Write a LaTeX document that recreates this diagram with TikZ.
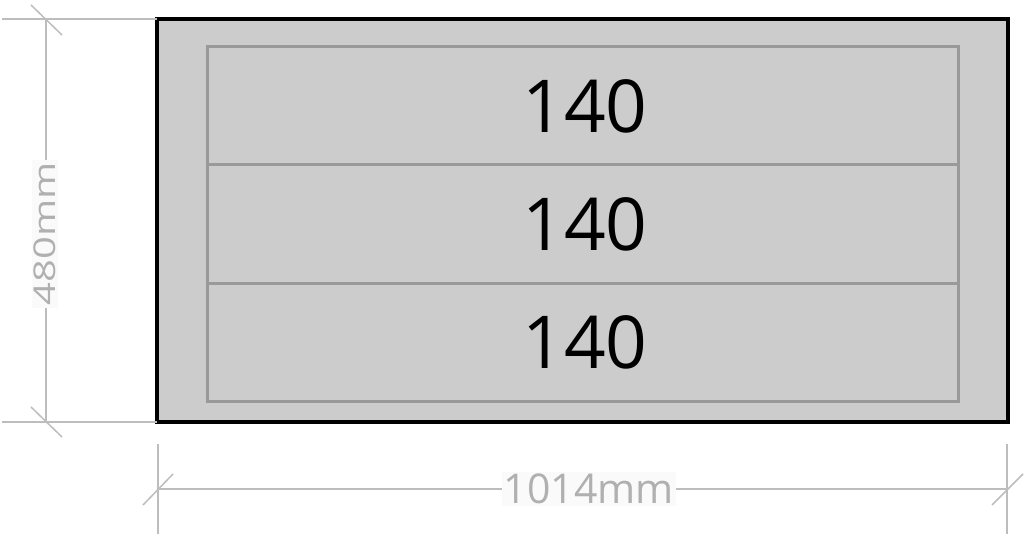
\documentclass[tikz,border=0pt]{standalone}
\usepackage{fontspec}
\setmainfont{Open Sans}
\usetikzlibrary{positioning,calc}
\definecolor{boardgray}{HTML}{CCCCCC}
\definecolor{slotgray}{HTML}{999999}
\definecolor{dimgray}{HTML}{BDBDBD}
\definecolor{dimtext}{HTML}{B0B0B0}
\begin{document}
\begin{tikzpicture}[x=1pt,y=-1pt,
		board/.style={draw=black,line width=4pt,fill=boardgray},
		slot/.style={draw=slotgray,line width=3pt,fill=boardgray,minimum width=751pt,minimum height=118pt,inner sep=0pt,
			outer sep=0pt,font=\fontsize{73}{75}\selectfont},
		dimline/.style={draw=dimgray,line width=1.5pt},
		dimlabel/.style={fill=white!98!black,text=dimtext,inner sep=2pt,font=\fontsize{41}{43}\selectfont},
		]
		\useasboundingbox (0,0) rectangle (1024,537);
		% outer board
		\draw[board] (157,19) rectangle (1008,422);
		\coordinate (tl) at (157,19);
		\coordinate (bl) at (157,422);
		% slots
		\node[slot] (s1) at (582.5,106) {\hspace{5pt}140};
		\node[slot,below=0pt of s1] (s2) {\hspace{5pt}140};
		\node[slot,below=0pt of s2] (s3) {\hspace{5pt}140};
		% height
		\coordinate (h1) at (46,19);
		\coordinate (h2) at (46,422);
		\draw[dimline] (2,19) -- (tl);
		\draw[dimline] (2,422) -- (bl);
		\draw[dimline] (h1) -- (h2);
		\node[dimlabel,rotate=90,font=\fontsize{40}{42}\selectfont] (hgt) at (45,234) {\scalebox{1}[0.75]{480mm}};
		\draw[dimline] (31,5) -- (62,35);
		\draw[dimline] (31,407) -- (62,437);
		% width
		\coordinate (w1) at (158,489);
		\coordinate (w2) at (1007,489);
		\draw[dimline] (158,444) -- (158,534);
		\draw[dimline] (1007,444) -- (1007,534);
		\draw[dimline] (w1) -- (w2);
		\node[dimlabel] (wdt) at (589,489) {1014mm};
		\draw[dimline] (143,505) -- (173,474);
		\draw[dimline] (992,505) -- (1023,474);
	\end{tikzpicture}
\end{document}
